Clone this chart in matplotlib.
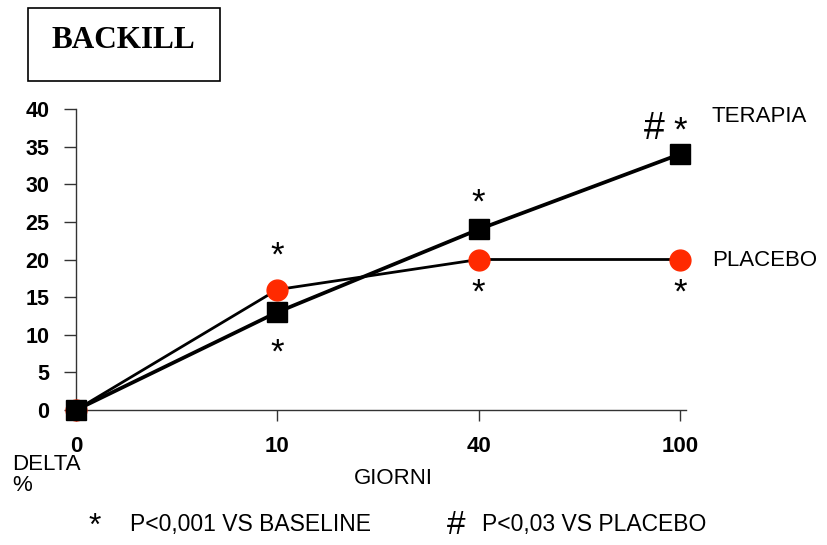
import matplotlib
matplotlib.use("Agg")
import matplotlib.pyplot as plt
from matplotlib.patches import Rectangle

giorni = ["0", "10", "40", "100"]
terapia = [0, 13, 24, 34]
placebo = [0, 16, 20, 20]
y_ticks = [0, 5, 10, 15, 20, 25, 30, 35, 40]

# significance marks: (category index, y in data units, text)
stelle = [(1, 20.5, "*"), (1, 7.5, "*"), (2, 27.5, "*"), (2, 15.5, "*"),
          (3, 15.5, "*"), (3, 37.0, "*")]

font = ["Liberation Sans", "DejaVu Sans"]

fig = plt.figure(figsize=(8.27, 5.45), dpi=100)
ax = fig.add_axes([76 / 827, 1 - 410 / 545, (686 - 76) / 827, (410 - 109) / 545])

x = list(range(len(giorni)))
ax.plot(x, placebo, color="black", lw=2, marker="o", ms=15,
        mfc="#ff2a00", mec="#ff2a00", clip_on=False, zorder=3)
ax.plot(x, terapia, color="black", lw=2.7, marker="s", ms=14,
        mfc="black", mec="black", clip_on=False, zorder=4)

ax.set_xlim(0, 3.03)
ax.set_ylim(0, 40)
ax.set_xticks(x)
ax.set_xticklabels(giorni)
ax.set_yticks(y_ticks)
for s in ["top", "right"]:
    ax.spines[s].set_visible(False)
for s in ["left", "bottom"]:
    ax.spines[s].set_color("#333333")
    ax.spines[s].set_linewidth(1)
ax.tick_params(axis="y", direction="out", length=9, width=1, pad=10, colors="#333333",
               labelcolor="black")
ax.tick_params(axis="x", direction="out", length=8, width=1, pad=11, colors="#333333",
               labelcolor="black")
for lab in ax.get_yticklabels():
    lab.set_fontfamily(font)
    lab.set_fontweight("bold")
    lab.set_fontsize(15.5)
for lab in ax.get_xticklabels():
    lab.set_fontfamily(font)
    lab.set_fontweight("bold")
    lab.set_fontsize(16)

for xi, yi, t in stelle:
    ax.text(xi, yi, t, ha="center", va="center", fontsize=25,
            family=font, clip_on=False)
ax.text(2.87, 37.3, "#", ha="center", va="center", fontsize=27,
        family=font, clip_on=False)

fig.text(712 / 827, 1 - 117 / 545, "TERAPIA", fontsize=16, family=font,
         va="center")
fig.text(712 / 827, 1 - 261 / 545, "PLACEBO", fontsize=16, family=font,
         va="center")

# title box
fig.patches.append(Rectangle((28 / 827, 1 - 81 / 545), 192 / 827, 73 / 545,
                             transform=fig.transFigure, fill=False,
                             edgecolor="black", lw=1.2))
fig.text(123 / 827, 1 - 40 / 545, "BACKILL", fontsize=22.5, fontweight="bold",
         family="Liberation Serif", ha="center", va="center")

fig.text(12 / 827, 1 - 475 / 545, "DELTA\n%", fontsize=16, family=font,
         va="center", linespacing=1.0)
fig.text(393 / 827, 1 - 478 / 545, "GIORNI", fontsize=16, family=font,
         ha="center", va="center")

fig.text(95 / 827, 1 - 527 / 545, "*", fontsize=23, family=font,
         ha="center", va="center")
fig.text(130 / 827, 1 - 524 / 545, "P<0,001 VS BASELINE", fontsize=16.5, family=font,
         va="center")
fig.text(456 / 827, 1 - 525 / 545, "#", fontsize=24, family=font,
         ha="center", va="center")
fig.text(482 / 827, 1 - 524 / 545, "P<0,03 VS PLACEBO", fontsize=16.5, family=font,
         va="center")

fig.savefig("out.png", dpi=100)
